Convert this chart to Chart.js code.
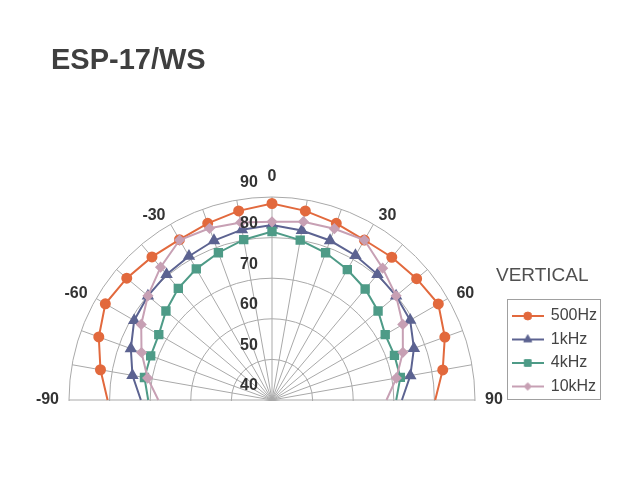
<!DOCTYPE html>
<html>
<head>
<meta charset="utf-8">
<title>ESP-17/WS</title>
<script src="https://cdn.jsdelivr.net/npm/chart.js@4.4.1/dist/chart.umd.min.js"></script>
<style>
  html, body { margin: 0; padding: 0; background: #fff; overflow: hidden; }
  #polar { display: block; }
</style>
</head>
<body>
<canvas id="polar" width="640" height="480"></canvas>
<script>
/*
    ESP-17/WS vertical dispersion (dB SPL, 0 = on axis)
*/
var angles  = [-90, -80, -70, -60, -50, -40, -30, -20, -10, 0, 10, 20, 30, 40, 50, 60, 70, 80, 90];
var spl500  = [80.5, 82.9, 85.4, 87.4, 86.7, 86.0, 85.6, 86.3, 87.3, 88.4, 87.3, 86.3, 85.5, 85.9, 86.5, 87.3, 85.3, 82.7, 80.2];
var spl1k   = [72.3, 74.9, 77.0, 79.2, 79.9, 80.4, 80.9, 81.8, 82.6, 83.1, 82.4, 81.8, 81.1, 80.4, 79.9, 79.3, 77.2, 74.6, 72.0];
var spl4k   = [70.5, 71.9, 71.8, 72.2, 74.1, 75.9, 77.3, 78.6, 80.1, 81.5, 80.0, 78.6, 77.1, 75.7, 74.1, 72.2, 72.1, 72.1, 70.6];
var spl10k  = [68.0, 71.1, 74.2, 77.2, 79.9, 82.7, 85.5, 85.0, 84.4, 83.9, 84.6, 84.9, 85.5, 82.4, 79.9, 77.2, 74.3, 71.1, 68.2];
var seriesNames = ['500Hz', '1kHz', '4kHz', '10kHz'];
var radialTicks = [40, 50, 60, 70, 80, 90];
var angleTicks  = [-90, -60, -30, 0, 30, 60, 90];

var FAM = '"Liberation Sans", Arial, Helvetica, sans-serif';
var GRID = '#a9a9a9';
var colors = ['#e2693d', '#5c6391', '#4e9b87', '#c7a0b4'];
var styles = ['circle', 'triangle', 'rect', 'rectRot'];
var sizes  = [4.5, 5.2, 5.2, 4.2];

// radar goes round the full circle in 10 degree steps, only the front half has data
var spokes = [];
for (var i = 0; i < 36; i++) spokes.push(i * 10);

function spokeIndex(deg){
    return deg >= 0 ? deg / 10 : 36 + deg / 10;
}

function toRadar(values){
    var out = spokes.map(function(){ return null; });
    for (var i = 0; i < angles.length; i++) {
        out[spokeIndex(angles[i])] = values[i];
    }
    return out;
}

function isEdge(index){
    return index === spokeIndex(90) || index === spokeIndex(-90);
}

function legendIcon(color, style, radius){
    var c = document.createElement('canvas');
    c.width = 32; c.height = 14;
    var g = c.getContext('2d');
    g.strokeStyle = color;
    g.fillStyle = color;
    g.lineWidth = 2;
    g.beginPath(); g.moveTo(0, 7); g.lineTo(32, 7); g.stroke();
    g.lineWidth = 1;
    Chart.helpers.drawPoint(g, {pointStyle: style, radius: radius, rotation: 0, borderWidth: 1}, 16, 7);
    return c;
}

var allSeries = [spl500, spl1k, spl4k, spl10k];
var datasets = allSeries.map(function(values, k){
    return {
        label: seriesNames[k],
        data: toRadar(values),
        borderColor: colors[k],
        backgroundColor: colors[k],
        pointBackgroundColor: colors[k],
        pointBorderColor: colors[k],
        pointStyle: styles[k],
        pointRadius: function(ctx){ return isEdge(ctx.index) ? 0 : sizes[k]; },
        pointHoverRadius: function(ctx){ return isEdge(ctx.index) ? 0 : sizes[k]; },
        borderWidth: 2,
        fill: false,
        spanGaps: false,
        order: allSeries.length - 1 - k,
    };
});

var icons = colors.map(function(c, k){ return legendIcon(c, styles[k], sizes[k] - 0.5); });

// hide the rear half of the circle
var rearMask = {
    id: 'rearMask',
    beforeDatasetsDraw: function(chart){
        var r = chart.scales.r;
        var ctx = chart.ctx;
        ctx.save();
        ctx.fillStyle = '#fff';
        ctx.fillRect(r.xCenter - r.drawingArea - 4, r.yCenter + 1, r.drawingArea * 2 + 8, chart.height - r.yCenter);
        ctx.restore();
    }
};

var polarLabels = {
    id: 'polarLabels',
    afterDraw: function(chart){
        var r = chart.scales.r;
        var ctx = chart.ctx;
        ctx.save();

        ctx.fillStyle = '#333';
        ctx.font = 'bold 16px ' + FAM;
        ctx.textAlign = 'center';
        ctx.textBaseline = 'middle';
        radialTicks.forEach(function(v){
            var d = r.getDistanceFromCenterForValue(v);
            ctx.fillText(String(v), r.xCenter - 23, r.yCenter - d - 14);
        });

        angleTicks.forEach(function(a){
            var pos = r.getPointPosition(spokeIndex(a), r.drawingArea + (a === 0 ? 12 : 10));
            ctx.textAlign = a > 0 ? 'left' : (a < 0 ? 'right' : 'center');
            ctx.textBaseline = a === 0 ? 'bottom' : 'middle';
            ctx.fillText(String(a), pos.x, pos.y);
        });

        ctx.fillStyle = '#505050';
        ctx.font = '19px ' + FAM;
        ctx.textAlign = 'left';
        ctx.textBaseline = 'middle';
        ctx.fillText('VERTICAL', 496, 276);

        var hb = chart.legend.legendHitBoxes;
        if (hb && hb.length) {
            var left = hb[0].left - 6;
            var top = hb[0].top - 9;
            var right = Math.max.apply(null, hb.map(function(h){ return h.left + h.width; })) + 3;
            var last = hb[hb.length - 1];
            var bottom = last.top + last.height + 4;
            ctx.strokeStyle = '#a0a0a0';
            ctx.lineWidth = 1;
            ctx.strokeRect(Math.round(left) + 0.5, Math.round(top) + 0.5, Math.round(right - left), Math.round(bottom - top));
        }
        ctx.restore();
    }
};

var ctx = document.getElementById('polar');

var config = {
    type: 'radar',
    data: {
        labels: spokes,
        datasets: datasets
    },
    options: {
        responsive: false,
        animation: false,
        events: [],
        layout: {
            padding: { left: 51, right: 33, top: 0, bottom: 78 }
        },
        elements: {
            line: { tension: 0 },
            point: { borderWidth: 1 }
        },
        plugins: {
            title: {
                display: true,
                text: 'ESP-17/WS',
                align: 'start',
                color: '#3f3f3f',
                font: { family: FAM, size: 29, weight: 'bold' },
                padding: { top: 44, bottom: 10 }
            },
            legend: {
                display: true,
                position: 'right',
                align: 'end',
                labels: {
                    usePointStyle: true,
                    pointStyleWidth: 30,
                    padding: 7.5,
                    color: '#444',
                    font: { family: FAM, size: 16 },
                    sort: function(a, b){ return a.datasetIndex - b.datasetIndex; },
                    generateLabels: function(chart){
                        var items = Chart.defaults.plugins.legend.labels.generateLabels(chart);
                        items.forEach(function(it){ it.pointStyle = icons[it.datasetIndex]; });
                        return items;
                    }
                }
            },
            tooltip: { enabled: false }
        },
        scales: {
            r: {
                min: 40,
                max: 90,
                startAngle: 0,
                ticks: { stepSize: 10, display: false },
                grid: { circular: true, color: GRID, lineWidth: 1 },
                angleLines: { color: GRID, lineWidth: 1 },
                pointLabels: { display: false },
                afterFit: function(scale){
                    scale.xCenter = 272;
                    scale.yCenter = 400;
                    scale.drawingArea = 203;
                }
            }
        }
    },
    plugins: [rearMask, polarLabels]
};

new Chart(ctx, config);
</script>
</body>
</html>
